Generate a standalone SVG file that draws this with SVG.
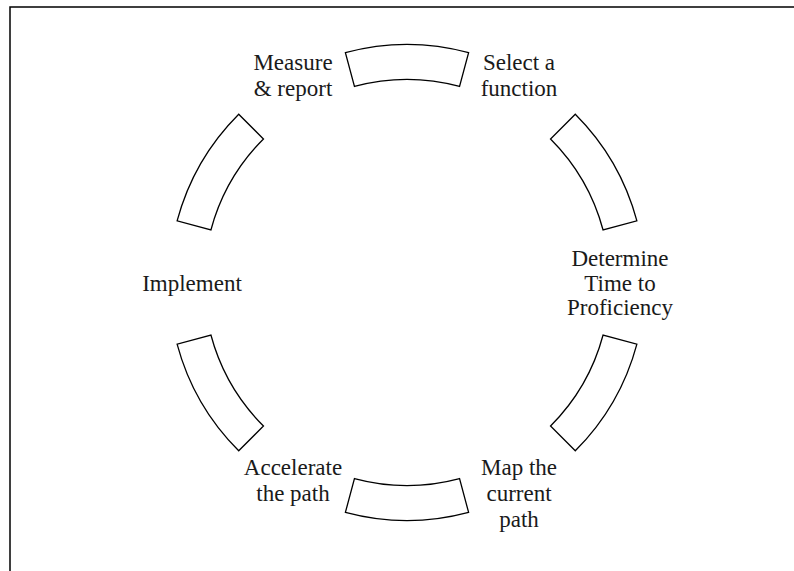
<svg xmlns="http://www.w3.org/2000/svg" xmlns:xlink="http://www.w3.org/1999/xlink" width="794" height="571" viewBox="0 0 794 571">
  <style>
    .frame { stroke: #000; stroke-width: 1.5; fill: none; }
    .seg { fill: #fff; stroke: #000; stroke-width: 1.3; stroke-linejoin: miter; }
    .lbl { font-family: "Liberation Serif", "Times New Roman", serif; font-size: 23px; fill: #1a1a1a; text-anchor: middle; }
  </style>
  <defs>
    <!-- one ring segment, 30 degrees wide, centred on 12 o'clock -->
    <path id="ringSeg" d="M -61.6 -229.89 A 238 238 0 0 1 61.6 -229.89 L 52.54 -196.08 A 203 203 0 0 0 -52.54 -196.08 Z"/>
  </defs>

  <rect width="794" height="571" fill="#fff"/>
  <!-- page frame (top and left edges) -->
  <path class="frame" d="M 794 7 L 10 7 L 10 571"/>

  <!-- ring segments between the steps -->
  <g id="connectors" transform="translate(407 282.5)">
    <use xlink:href="#ringSeg" class="seg"/>
    <use xlink:href="#ringSeg" class="seg" transform="rotate(60)"/>
    <use xlink:href="#ringSeg" class="seg" transform="rotate(120)"/>
    <use xlink:href="#ringSeg" class="seg" transform="rotate(180)"/>
    <use xlink:href="#ringSeg" class="seg" transform="rotate(240)"/>
    <use xlink:href="#ringSeg" class="seg" transform="rotate(300)"/>
  </g>

  <!-- steps of the cycle -->
  <g id="select">
    <text class="lbl" x="519" y="70">Select a</text>
    <text class="lbl" x="519" y="96">function</text>
  </g>
  <g id="determine">
    <text class="lbl" x="620" y="266">Determine</text>
    <text class="lbl" x="620" y="290.5">Time to</text>
    <text class="lbl" x="620" y="315">Proficiency</text>
  </g>
  <g id="map">
    <text class="lbl" x="519" y="475">Map the</text>
    <text class="lbl" x="519" y="501">current</text>
    <text class="lbl" x="519" y="527">path</text>
  </g>
  <g id="accelerate">
    <text class="lbl" x="293" y="475">Accelerate</text>
    <text class="lbl" x="293" y="501">the path</text>
  </g>
  <g id="implement">
    <text class="lbl" x="192" y="291">Implement</text>
  </g>
  <g id="measure">
    <text class="lbl" x="293" y="70">Measure</text>
    <text class="lbl" x="293" y="96">&amp; report</text>
  </g>
</svg>
